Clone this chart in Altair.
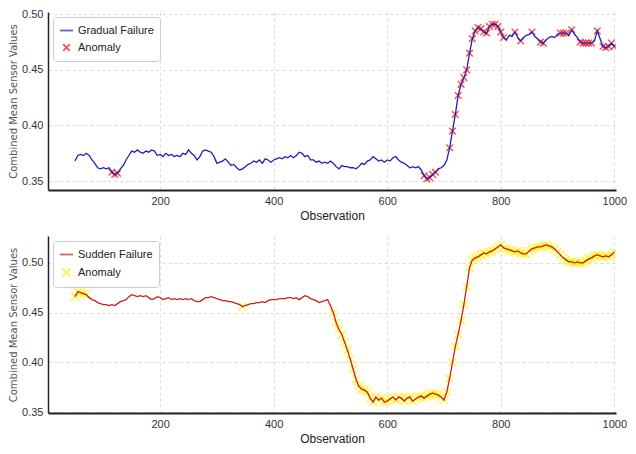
import altair as alt
import pandas as pd

# observation index (every 5th observation)
obs = list(range(50, 1001, 5))

gradual = [
    0.368, 0.373, 0.374, 0.373, 0.375, 0.373, 0.369, 0.366, 0.362, 0.361,
    0.362, 0.361, 0.362, 0.358, 0.356, 0.357, 0.361, 0.364, 0.369, 0.373,
    0.377, 0.376, 0.378, 0.376, 0.375, 0.377, 0.376, 0.378, 0.377, 0.373,
    0.374, 0.372, 0.375, 0.373, 0.374, 0.372, 0.373, 0.372, 0.375, 0.374,
    0.378, 0.375, 0.373, 0.369, 0.372, 0.377, 0.378, 0.377, 0.376, 0.372,
    0.366, 0.367, 0.368, 0.370, 0.367, 0.364, 0.365, 0.362, 0.360, 0.361,
    0.363, 0.365, 0.366, 0.368, 0.367, 0.369, 0.366, 0.370, 0.369, 0.367,
    0.369, 0.370, 0.371, 0.370, 0.372, 0.371, 0.373, 0.371, 0.373, 0.376,
    0.375, 0.372, 0.373, 0.369, 0.369, 0.367, 0.368, 0.366, 0.367, 0.366,
    0.368, 0.366, 0.363, 0.361, 0.364, 0.363, 0.363, 0.362, 0.362, 0.361,
    0.363, 0.366, 0.365, 0.368, 0.369, 0.372, 0.370, 0.368, 0.369, 0.367,
    0.369, 0.368, 0.371, 0.372, 0.369, 0.367, 0.366, 0.364, 0.362, 0.363,
    0.362, 0.363, 0.360, 0.355, 0.352, 0.353, 0.356, 0.358, 0.361, 0.362,
    0.364, 0.369, 0.380, 0.395, 0.410, 0.427, 0.437, 0.443, 0.450, 0.465,
    0.478, 0.485, 0.488, 0.487, 0.484, 0.483, 0.489, 0.491, 0.491, 0.489,
    0.484, 0.479, 0.477, 0.481, 0.480, 0.484, 0.479, 0.476, 0.479, 0.481,
    0.482, 0.484, 0.480, 0.478, 0.475, 0.474, 0.477, 0.479, 0.480, 0.479,
    0.482, 0.483, 0.483, 0.483, 0.481, 0.486, 0.482, 0.479, 0.475, 0.474,
    0.474, 0.474, 0.474, 0.476, 0.485, 0.478, 0.471, 0.470, 0.471, 0.474,
    0.471,
]

sudden = [
    0.466, 0.471, 0.470, 0.469, 0.468, 0.465, 0.463, 0.462, 0.460, 0.459,
    0.458, 0.458, 0.457, 0.458, 0.457, 0.459, 0.461, 0.462, 0.463, 0.466,
    0.468, 0.467, 0.466, 0.467, 0.466, 0.467, 0.465, 0.463, 0.464, 0.466,
    0.465, 0.463, 0.464, 0.465, 0.463, 0.464, 0.463, 0.464, 0.463, 0.464,
    0.463, 0.464, 0.462, 0.461, 0.461, 0.463, 0.465, 0.465, 0.466, 0.465,
    0.464, 0.463, 0.462, 0.462, 0.461, 0.461, 0.460, 0.459, 0.458, 0.456,
    0.457, 0.458, 0.459, 0.459, 0.460, 0.460, 0.461, 0.460, 0.462, 0.463,
    0.463, 0.463, 0.464, 0.464, 0.464, 0.465, 0.465, 0.464, 0.465, 0.463,
    0.465, 0.467, 0.466, 0.464, 0.463, 0.462, 0.460, 0.461, 0.462, 0.463,
    0.457, 0.450, 0.440, 0.433, 0.428, 0.420, 0.412, 0.403, 0.393, 0.383,
    0.376, 0.373, 0.372, 0.370, 0.364, 0.360, 0.365, 0.362, 0.364, 0.360,
    0.361, 0.363, 0.365, 0.362, 0.365, 0.364, 0.361, 0.364, 0.365, 0.361,
    0.363, 0.365, 0.366, 0.364, 0.366, 0.368, 0.369, 0.368, 0.367, 0.365,
    0.362, 0.370, 0.384, 0.400, 0.416, 0.428, 0.442, 0.458, 0.476, 0.495,
    0.503, 0.505, 0.506, 0.508, 0.510, 0.509, 0.511, 0.512, 0.514, 0.516,
    0.518, 0.515, 0.514, 0.513, 0.512, 0.511, 0.512, 0.510, 0.509, 0.509,
    0.512, 0.514, 0.515, 0.516, 0.516, 0.517, 0.518, 0.517, 0.516, 0.514,
    0.511, 0.508, 0.505, 0.503, 0.501, 0.501, 0.500, 0.501, 0.500, 0.500,
    0.502, 0.504, 0.505, 0.507, 0.508, 0.507, 0.506, 0.507, 0.506, 0.508,
    0.511,
]

gradual_anomalies = (
    [115, 120, 125, 665, 670, 675, 680, 685]
    + list(range(710, 806, 5))
    + [825, 835, 855, 870, 875, 905, 910, 915, 925, 940, 945, 950, 955, 960, 970]
    + [980, 985, 990, 995, 1000]
)
sudden_anomalies = [50, 55, 60, 65, 70, 345] + list(range(505, 1001, 5))

x_ticks = [200, 400, 600, 800, 1000]
y_ticks = [0.35, 0.40, 0.45, 0.50]

XPATH = "M-1,-1L1,1M-1,1L1,-1"
NARROW = "Liberation Sans Narrow, Liberation Sans, Arial, sans-serif"


def panel(values, anom_obs, name, line_color, mark_color, ydom, height, msize):
    df = pd.DataFrame({"obs": obs, "val": values, "series": name})
    lookup = dict(zip(obs, values))
    adf = pd.DataFrame({
        "obs": anom_obs,
        "val": [lookup[o] for o in anom_obs],
        "series": "Anomaly",
    })
    domain = [name, "Anomaly"]
    leg = alt.Legend(title=None, orient="top-left")
    color = alt.Color("series:N", scale=alt.Scale(domain=domain, range=[line_color, mark_color]), legend=leg)
    shape = alt.Shape("series:N", scale=alt.Scale(domain=domain, range=["stroke", XPATH]), legend=leg)
    size = alt.Size("series:N", scale=alt.Scale(type="ordinal", domain=domain, range=[170, msize]), legend=leg)
    x = alt.X("obs:Q",
              scale=alt.Scale(domain=[2.5, 1003], nice=False, zero=False),
              axis=alt.Axis(values=x_ticks, format="d", title="Observation", domainWidth=2))
    y = alt.Y("val:Q",
              scale=alt.Scale(domain=ydom, nice=False, zero=False),
              axis=alt.Axis(values=y_ticks, format=".2f", title="Combined Mean Sensor Values"))
    pts = alt.Chart(adf).mark_point(filled=False, strokeWidth=1.5, clip=True).encode(
        x=x, y=y, color=color, shape=shape, size=size,
    )
    line = alt.Chart(df).mark_line(strokeWidth=1.3, clip=True).encode(x=x, y=y, color=color)
    return alt.layer(pts, line).properties(width=568, height=height)


top = panel(gradual, gradual_anomalies, "Gradual Failure", "#2020b8", "#ee1111",
            [0.342, 0.502], 178, 44)
bottom = panel(sudden, sudden_anomalies, "Sudden Failure", "#cc2020", "#fff200",
               [0.349, 0.527], 177, 64)

chart = alt.vconcat(top, bottom, spacing=15).resolve_scale(
    color="independent", shape="independent", size="independent"
).properties(
    padding={"left": 0, "top": 0, "right": 0, "bottom": 0}
).configure_view(
    stroke=None
).configure_axis(
    grid=True,
    gridColor="#d0d0d0",
    gridDash=[3, 3],
    gridWidth=0.8,
    ticks=False,
    domainColor="#222222",
    domainWidth=1.5,
    labelFont=NARROW,
    labelFontSize=11,
    labelColor="#333333",
    labelPadding=5,
    titleFont=NARROW,
    titleFontSize=12,
    titleFontWeight="normal",
    titleColor="#222222",
).configure_axisY(
    titleFont="DejaVu Sans",
    titleFontSize=10,
    titleColor="#555555",
    titlePadding=3,
).configure_axisX(
    titlePadding=4,
).configure_legend(
    fillColor="white",
    strokeColor="#cccccc",
    cornerRadius=3,
    padding=6,
    offset=5,
    rowPadding=4,
    labelFont=NARROW,
    labelFontSize=11,
    labelColor="#222222",
    symbolStrokeWidth=1.8,
)

chart.save("out.html", embed_options={"renderer": "svg", "actions": False})
